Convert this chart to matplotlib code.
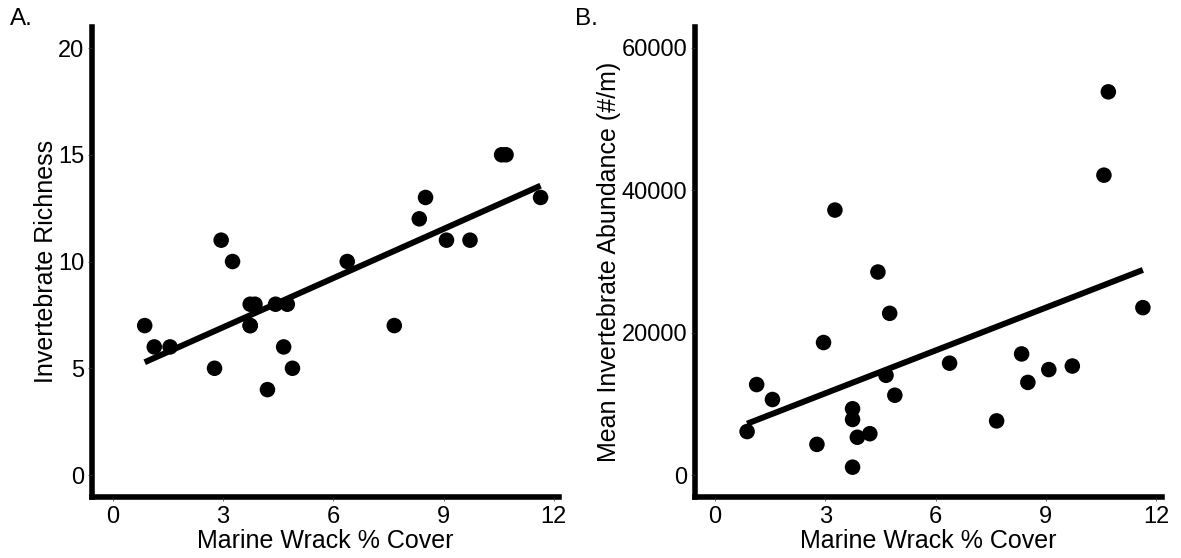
import numpy as np
import matplotlib
matplotlib.use("Agg")
import matplotlib.pyplot as plt

plt.rcParams['font.family'] = ['Liberation Sans', 'DejaVu Sans']

# marine wrack % cover per site (shared by both panels)
wrack = [0.87, 1.13, 1.56, 2.77, 2.95, 3.26, 3.74, 3.74, 3.74, 3.87, 4.21, 4.43,
         4.65, 4.75, 4.89, 6.38, 7.66, 8.34, 8.51, 9.08, 9.72, 10.58, 10.70, 11.64]
# panel A: invertebrate richness
richness = [7, 6, 6, 5, 11, 10, 8, 7, 7, 8, 4, 8,
            6, 8, 5, 10, 7, 12, 13, 11, 11, 15, 15, 13]
# panel B: mean invertebrate abundance (#/m)
abundance = [6100, 12700, 10600, 4300, 18600, 37200, 9300, 7800, 1100, 5300, 5800, 28500,
             14000, 22700, 11200, 15700, 7600, 17000, 13000, 14800, 15300, 42100, 53800, 23500]

x_ticks = [0, 3, 6, 9, 12]
a_ticks = [0, 5, 10, 15, 20]
b_ticks = [0, 20000, 40000, 60000]

fig = plt.figure(figsize=(11.81, 5.58), dpi=100)
axA = fig.add_axes([0.0777, 0.1093, 0.3956, 0.8429])
axB = fig.add_axes([0.5881, 0.1093, 0.3958, 0.8429])


def style(ax, ylab, ylab_x):
    for s in ['top', 'right']:
        ax.spines[s].set_visible(False)
    for s in ['left', 'bottom']:
        ax.spines[s].set_linewidth(4.0)
        ax.spines[s].set_color('black')
        ax.spines[s].set_zorder(1)
    ax.tick_params(length=2.75, width=0.5, color='#333333', labelsize=17, labelcolor='black')
    ax.tick_params(axis='x', pad=3.4)
    ax.tick_params(axis='y', pad=2.4)
    ax.set_xticks(x_ticks)
    ax.set_xlabel("Marine Wrack % Cover", fontsize=18, va='baseline')
    ax.xaxis.set_label_coords(0.5, -0.109)
    ax.set_ylabel(ylab, fontsize=18, va='baseline')
    ax.yaxis.set_label_coords(ylab_x, 0.5)


def draw(ax, x, y):
    x = np.array(x)
    y = np.array(y)
    ax.scatter(x, y, s=125, color='black', zorder=3, edgecolors='none', clip_on=False)
    m, b = np.polyfit(x, y, 1)
    xs = np.array([x.min(), x.max()])
    ax.plot(xs, m * xs + b, color='black', lw=4.3, solid_capstyle='butt', zorder=2)


draw(axA, wrack, richness)
axA.set_xlim(-0.57, 12.14)
axA.set_ylim(-1.03, 21.0)
axA.set_yticks(a_ticks)
style(axA, "Invertebrate Richness", -0.0824)

draw(axB, wrack, abundance)
axB.set_xlim(-0.56, 12.16)
axB.set_ylim(-3090, 62950)
axB.set_yticks(b_ticks)
axB.set_yticklabels([str(v) for v in b_ticks])
style(axB, "Mean Invertebrate Abundance (#/m)", -0.168)

fig.text(10 / 1181, 1 - 25 / 558, "A.", fontsize=17.5, va='baseline')
fig.text(575 / 1181, 1 - 25 / 558, "B.", fontsize=17.5, va='baseline')

fig.savefig("out.png", dpi=100)
